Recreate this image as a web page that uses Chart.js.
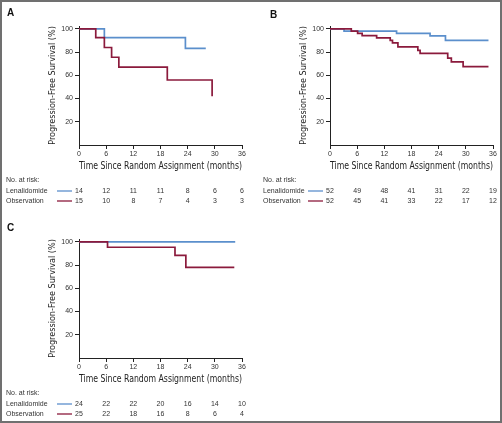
<!DOCTYPE html>
<html>
<head>
<meta charset="utf-8">
<script src="https://cdn.jsdelivr.net/npm/chart.js@4.4.1/dist/chart.umd.min.js"></script>
<style>
  html, body { margin: 0; padding: 0; background: #fff; }
  #frame { position: absolute; left: 0; top: 0; width: 502px; height: 423px; box-sizing: border-box; border: 2px solid #707070; }
  canvas { position: absolute; }
</style>
</head>
<body>
<div id="frame"></div>
<canvas id="panelA" width="250" height="213" style="left:0;top:0"></canvas>
<canvas id="panelB" width="250" height="213" style="left:251px;top:0"></canvas>
<canvas id="panelC" width="250" height="208" style="left:0;top:213px"></canvas>
<script>
// shared axis values
const xTicks = [0, 6, 12, 18, 24, 30, 36];
const yTicks = [20, 40, 60, 80, 100];
const riskTimes = [0, 6, 12, 18, 24, 30, 36];

// panel A
const aLenTimes = [0, 5.6, 23.5, 28];
const aLenSurv = [100, 92.5, 83.3, 83.3];
const aObsTimes = [0, 3.7, 5.6, 7.2, 8.8, 19.5, 29.4];
const aObsSurv = [100, 92.5, 84, 75.6, 67, 56, 42];
const aLenRisk = [14, 12, 11, 11, 8, 6, 6];
const aObsRisk = [15, 10, 8, 7, 4, 3, 3];

// panel B
const bLenTimes = [0, 3.1, 14.7, 22.1, 25.5, 35];
const bLenSurv = [100, 98.1, 96.1, 94, 90.2, 90.2];
const bObsTimes = [0, 4.7, 6.1, 7.1, 10.3, 13.3, 13.8, 15.0, 19.4, 19.9, 26.0, 26.8, 29.4, 35];
const bObsSurv = [100, 98.1, 96.2, 94.2, 92.2, 90.1, 87.9, 84.6, 81.5, 79, 74.9, 71.6, 67.5, 67.5];
const bLenRisk = [52, 49, 48, 41, 31, 22, 19];
const bObsRisk = [52, 45, 41, 33, 22, 17, 12];

// panel C
const cLenTimes = [0, 34.5];
const cLenSurv = [100, 100];
const cObsTimes = [0, 6.3, 21.2, 23.6, 34.3];
const cObsSurv = [100, 95.4, 88.4, 78, 78];
const cLenRisk = [24, 22, 22, 20, 16, 14, 10];
const cObsRisk = [25, 22, 18, 16, 8, 6, 4];

const BLUE = '#5b8fcc';
const RED = '#8b1a3c';
const SANS = '"Liberation Sans", Arial, sans-serif';
const NARROW = '"Liberation Sans Narrow", "DejaVu Sans Condensed", "Liberation Sans", sans-serif';

const toPoints = (times, surv) => times.map((t, i) => ({ x: t, y: surv[i] }));

// panel letter + number-at-risk table, aligned on the x scale
const riskTablePlugin = {
    id: 'riskTable',
    afterDraw(chart, args, opts) {
        const ctx = chart.ctx;
        const xScale = chart.scales.x;
        const base = chart.chartArea.bottom;
        ctx.save();
        ctx.font = 'bold 10px ' + SANS;
        ctx.fillStyle = '#111';
        ctx.textAlign = 'left';
        ctx.textBaseline = 'alphabetic';
        ctx.fillText(opts.letter, opts.letterX, opts.letterY);

        ctx.font = '7px ' + SANS;
        ctx.fillStyle = '#333';
        ctx.textBaseline = 'middle';
        ctx.fillText('No. at risk:', opts.labelX, base + 35);
        opts.rows.forEach((row, i) => {
            const y = base + 46 + i * 10;
            ctx.textAlign = 'left';
            ctx.fillText(row.label, opts.labelX, y);
            ctx.strokeStyle = row.color;
            ctx.lineWidth = 1.3;
            ctx.beginPath();
            ctx.moveTo(57, y);
            ctx.lineTo(72, y);
            ctx.stroke();
            ctx.textAlign = 'center';
            row.values.forEach((v, j) => {
                ctx.fillText(String(v), xScale.getPixelForValue(riskTimes[j]), y);
            });
        });
        ctx.restore();
    }
};

function makeChart(id, panel) {
    const ctx = document.getElementById(id).getContext('2d');
    return new Chart(ctx, {
        type: 'line',
        data: {
            datasets: [
                {
                    label: 'Observation',
                    data: toPoints(panel.obsTimes, panel.obsSurv),
                    borderColor: RED,
                    borderWidth: 1.7,
                    stepped: 'before',
                    pointRadius: 0,
                    order: 0
                },
                {
                    label: 'Lenalidomide',
                    data: toPoints(panel.lenTimes, panel.lenSurv),
                    borderColor: BLUE,
                    borderWidth: 1.7,
                    stepped: 'before',
                    pointRadius: 0,
                    order: 1
                }
            ]
        },
        options: {
            responsive: false,
            animation: false,
            devicePixelRatio: 1,
            layout: { padding: { left: 46, top: 26, right: 8, bottom: panel.bottomPad } },
            plugins: {
                legend: { display: false },
                tooltip: { enabled: false },
                riskTable: {
                    letter: panel.letter,
                    letterX: panel.letterX,
                    letterY: panel.letterY,
                    labelX: panel.labelX,
                    rows: [
                        { label: 'Lenalidomide', color: BLUE, values: panel.lenRisk },
                        { label: 'Observation', color: RED, values: panel.obsRisk }
                    ]
                }
            },
            scales: {
                x: {
                    type: 'linear',
                    min: 0,
                    max: 36,
                    afterBuildTicks: s => { s.ticks = xTicks.map(v => ({ value: v })); },
                    afterFit: s => { s.height = 28; },
                    ticks: { font: { family: SANS, size: 7 }, color: '#333', padding: 1, maxRotation: 0 },
                    grid: { drawOnChartArea: false, tickLength: 4, color: '#222' },
                    border: { color: '#222', width: 1 },
                    title: {
                        display: true,
                        text: 'Time Since Random Assignment (months)',
                        font: { family: NARROW, size: 11 },
                        color: '#222',
                        padding: 0
                    }
                },
                y: {
                    min: 0,
                    max: 102.5,
                    afterBuildTicks: s => { s.ticks = yTicks.map(v => ({ value: v })); },
                    afterFit: s => { s.width = 33; },
                    ticks: { font: { family: SANS, size: 7 }, color: '#333', padding: 2 },
                    grid: { drawOnChartArea: false, tickLength: 4, color: '#222' },
                    border: { color: '#222', width: 1 },
                    title: {
                        display: true,
                        text: 'Progression-Free Survival (%)',
                        font: { family: NARROW, size: 9 },
                        color: '#222',
                        padding: { top: 1, bottom: 0 }
                    }
                }
            }
        },
        plugins: [riskTablePlugin]
    });
}

makeChart('panelA', {
    letter: 'A', letterX: 7, letterY: 16, labelX: 6, bottomPad: 40,
    lenTimes: aLenTimes, lenSurv: aLenSurv, obsTimes: aObsTimes, obsSurv: aObsSurv,
    lenRisk: aLenRisk, obsRisk: aObsRisk
});
makeChart('panelB', {
    letter: 'B', letterX: 19, letterY: 18, labelX: 12, bottomPad: 40,
    lenTimes: bLenTimes, lenSurv: bLenSurv, obsTimes: bObsTimes, obsSurv: bObsSurv,
    lenRisk: bLenRisk, obsRisk: bObsRisk
});
makeChart('panelC', {
    letter: 'C', letterX: 7, letterY: 18, labelX: 6, bottomPad: 35,
    lenTimes: cLenTimes, lenSurv: cLenSurv, obsTimes: cObsTimes, obsSurv: cObsSurv,
    lenRisk: cLenRisk, obsRisk: cObsRisk
});
</script>
</body>
</html>
